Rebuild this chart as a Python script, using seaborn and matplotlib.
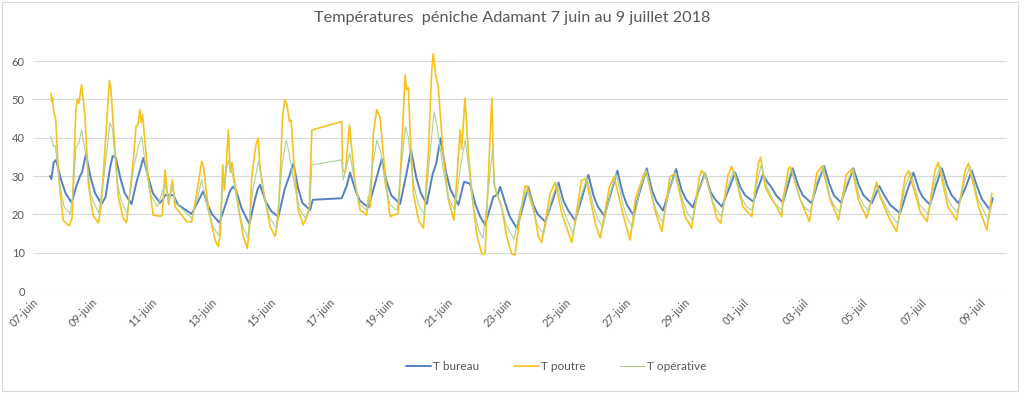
import pandas as pd
import seaborn as sns
import matplotlib.pyplot as plt
from matplotlib.lines import Line2D
from matplotlib.patches import Rectangle

debut = pd.Timestamp("2018-06-07")

# (jours depuis le 07-juin 00h, temperature en degres)
t_bureau = [
    (0.57, 30.0), (0.62, 29.2), (0.70, 33.5), (0.78, 34.2), (0.95, 29.0), (1.10, 25.5),
    (1.31, 23.0), (1.45, 27.0), (1.59, 30.0), (1.66, 31.0), (1.79, 35.8), (1.95, 29.5),
    (2.10, 25.5), (2.32, 22.7), (2.45, 24.5), (2.60, 32.0), (2.69, 35.2), (2.80, 34.8),
    (2.95, 29.5), (3.10, 25.5), (3.33, 22.7), (3.50, 28.5), (3.73, 34.7), (3.90, 29.5),
    (4.05, 25.5), (4.29, 23.0), (4.40, 24.0), (4.46, 25.0), (4.74, 25.0), (4.90, 22.5),
    (5.36, 20.1), (5.55, 23.0), (5.75, 26.0), (5.90, 22.5), (6.05, 20.0), (6.30, 17.8),
    (6.50, 22.5), (6.65, 26.0), (6.75, 27.2), (6.85, 26.5), (7.05, 21.5), (7.31, 17.5),
    (7.50, 24.0), (7.60, 26.8), (7.67, 27.7), (7.85, 23.5), (8.05, 20.8), (8.29, 19.4),
    (8.50, 26.5), (8.65, 29.8), (8.80, 33.3), (8.95, 27.0), (9.10, 23.0), (9.36, 21.1),
    (9.45, 23.8), (10.43, 24.2), (10.60, 27.5), (10.71, 30.9), (10.90, 26.0), (11.05, 23.5),
    (11.33, 21.8), (11.55, 28.0), (11.78, 34.4), (11.95, 28.5), (12.10, 25.0), (12.40, 22.7),
    (12.60, 30.0), (12.77, 36.8), (12.95, 29.5), (13.10, 25.5), (13.30, 22.7), (13.50, 30.5),
    (13.62, 33.3), (13.77, 39.9), (13.95, 31.0), (14.10, 26.5), (14.37, 22.5), (14.56, 28.5),
    (14.76, 28.0), (14.95, 22.5), (15.10, 19.5), (15.27, 17.2), (15.45, 22.0), (15.55, 24.6),
    (15.70, 25.2), (15.78, 27.2), (15.95, 23.0), (16.10, 19.5), (16.34, 16.4), (16.55, 22.0),
    (16.73, 27.1), (16.90, 22.5), (17.05, 20.0), (17.30, 18.1), (17.55, 23.5), (17.75, 28.3),
    (17.92, 23.5), (18.08, 21.0), (18.31, 18.4), (18.55, 24.5), (18.76, 30.3), (18.93, 25.0),
    (19.08, 22.0), (19.30, 19.6), (19.52, 25.5), (19.74, 31.4), (19.92, 25.5), (20.06, 22.5),
    (20.28, 19.8), (20.50, 26.0), (20.73, 32.0), (20.90, 26.5), (21.05, 23.5), (21.28, 21.0),
    (21.50, 26.5), (21.72, 31.8), (21.90, 26.5), (22.05, 24.0), (22.29, 21.8), (22.50, 26.5),
    (22.70, 30.7), (22.88, 26.0), (23.03, 24.0), (23.27, 22.0), (23.50, 26.5), (23.72, 30.9),
    (23.90, 27.0), (24.05, 25.0), (24.33, 23.3), (24.50, 27.0), (24.65, 30.3), (24.80, 28.5),
    (24.95, 27.0), (25.10, 25.0), (25.33, 23.1), (25.50, 27.5), (25.66, 32.0), (25.85, 27.5),
    (26.00, 25.0), (26.30, 22.9), (26.50, 28.0), (26.72, 32.6), (26.90, 28.0), (27.05, 25.0),
    (27.29, 23.1), (27.50, 27.5), (27.71, 32.0), (27.90, 27.5), (28.05, 25.0), (28.33, 22.9),
    (28.45, 25.0), (28.59, 27.4), (28.75, 25.0), (28.95, 22.5), (29.29, 20.3), (29.50, 25.5),
    (29.74, 30.9), (29.92, 26.5), (30.05, 24.5), (30.30, 22.5), (30.50, 27.5), (30.70, 32.0),
    (30.88, 27.5), (31.03, 25.0), (31.26, 22.9), (31.50, 27.0), (31.71, 31.4), (31.90, 27.0),
    (32.05, 24.0), (32.31, 21.3), (32.42, 24.2),
]

t_poutre = [
    (0.60, 51.6), (0.63, 49.5), (0.66, 50.5), (0.70, 46.8), (0.77, 44.6), (0.85, 32.0),
    (0.91, 26.4), (1.02, 18.5), (1.15, 17.5), (1.23, 17.0), (1.32, 19.0), (1.36, 28.1),
    (1.45, 47.3), (1.50, 50.0), (1.55, 49.0), (1.64, 53.8), (1.76, 45.5), (1.87, 28.1),
    (2.03, 19.8), (2.21, 17.7), (2.30, 22.0), (2.43, 36.8), (2.58, 54.9), (2.63, 53.0),
    (2.77, 36.8), (2.88, 24.6), (3.05, 19.0), (3.16, 17.8), (3.25, 24.0), (3.39, 34.2),
    (3.48, 42.9), (3.55, 43.5), (3.61, 47.3), (3.65, 44.0), (3.70, 46.0), (3.77, 40.0),
    (3.89, 29.8), (4.06, 19.8), (4.30, 19.5), (4.37, 19.8), (4.46, 31.6), (4.58, 22.5),
    (4.71, 29.0), (4.80, 22.0), (5.19, 18.1), (5.36, 18.0), (5.53, 25.5), (5.70, 33.8),
    (5.76, 32.5), (5.93, 21.1), (6.15, 13.3), (6.26, 11.6), (6.33, 15.0), (6.41, 32.9),
    (6.47, 26.4), (6.60, 42.0), (6.66, 31.0), (6.72, 33.5), (6.94, 22.0), (7.10, 14.2),
    (7.24, 11.1), (7.31, 16.0), (7.39, 29.8), (7.53, 38.1), (7.61, 39.9), (7.66, 33.0),
    (7.78, 26.4), (8.01, 16.8), (8.18, 14.2), (8.28, 19.0), (8.34, 28.1), (8.43, 45.5),
    (8.51, 49.9), (8.58, 48.5), (8.66, 44.2), (8.72, 44.6), (8.82, 32.5), (8.96, 21.1),
    (9.13, 17.2), (9.33, 21.1), (9.42, 42.0), (10.43, 44.2), (10.46, 31.6), (10.55, 30.9),
    (10.69, 43.3), (10.88, 28.1), (11.05, 21.1), (11.27, 19.8), (11.33, 24.6), (11.40, 22.0),
    (11.50, 41.2), (11.61, 47.3), (11.72, 45.5), (11.89, 30.7), (12.06, 19.4), (12.34, 20.3),
    (12.45, 36.8), (12.57, 56.4), (12.62, 52.5), (12.68, 53.0), (12.74, 41.2), (12.85, 25.5),
    (13.02, 18.5), (13.19, 16.4), (13.36, 36.8), (13.47, 57.7), (13.52, 61.9), (13.61, 56.0),
    (13.69, 53.3), (13.86, 35.1), (14.03, 23.8), (14.22, 18.5), (14.43, 42.0), (14.48, 37.0),
    (14.59, 50.3), (14.70, 36.8), (14.82, 25.5), (15.00, 14.2), (15.16, 9.7), (15.27, 9.7),
    (15.42, 36.8), (15.50, 50.3), (15.57, 28.1), (15.66, 25.5), (15.82, 22.3), (16.00, 14.2),
    (16.17, 9.7), (16.28, 9.4), (16.45, 19.4), (16.62, 27.2), (16.68, 27.5), (16.90, 22.0),
    (17.07, 14.2), (17.18, 12.6), (17.47, 25.5), (17.64, 28.3), (17.86, 20.3), (18.20, 12.6),
    (18.50, 27.7), (18.53, 28.9), (18.68, 29.4), (18.99, 17.7), (19.16, 13.8), (19.47, 27.2),
    (19.63, 29.8), (19.95, 19.4), (20.17, 13.3), (20.35, 24.0), (20.62, 30.3), (20.71, 31.2),
    (21.01, 21.1), (21.24, 15.5), (21.52, 29.8), (21.69, 30.7), (22.03, 19.4), (22.25, 16.4),
    (22.51, 29.8), (22.58, 31.4), (22.71, 30.3), (23.10, 19.0), (23.23, 17.7), (23.48, 30.3),
    (23.60, 32.5), (23.70, 30.5), (23.98, 22.0), (24.28, 19.4), (24.50, 33.3), (24.58, 34.9),
    (24.73, 27.2), (24.90, 24.6), (25.12, 22.0), (25.29, 19.4), (25.33, 23.8), (25.52, 32.0),
    (25.59, 32.4), (25.92, 23.8), (26.23, 18.1), (26.47, 30.7), (26.65, 32.6), (26.93, 23.8),
    (27.21, 18.5), (27.47, 30.3), (27.67, 32.0), (27.88, 23.8), (28.16, 19.0), (28.45, 27.2),
    (28.50, 28.4), (28.61, 24.6), (28.95, 18.5), (29.17, 15.5), (29.46, 29.8), (29.57, 31.4),
    (29.97, 20.7), (30.20, 18.1), (30.47, 31.6), (30.58, 33.5), (30.90, 22.0), (31.20, 18.5),
    (31.48, 31.2), (31.60, 33.3), (31.94, 22.0), (32.22, 15.9), (32.39, 25.5),
]

t_operative = [
    (0.60, 40.3), (0.65, 39.0), (0.70, 37.7), (0.75, 38.0), (0.90, 28.0), (1.05, 22.0),
    (1.25, 20.1), (1.35, 25.0), (1.45, 37.5), (1.55, 38.5), (1.64, 42.0), (1.80, 35.0),
    (1.95, 25.0), (2.22, 20.3), (2.40, 30.0), (2.60, 43.8), (2.68, 42.5), (2.85, 28.0),
    (3.00, 23.0), (3.18, 20.3), (3.40, 32.0), (3.55, 37.5), (3.67, 40.3), (3.80, 33.0),
    (3.95, 25.5), (4.20, 22.0), (4.46, 28.0), (4.58, 23.5), (4.71, 27.0), (4.82, 23.0),
    (5.36, 19.0), (5.55, 24.0), (5.70, 29.0), (5.90, 21.5), (6.10, 16.5), (6.28, 14.5),
    (6.42, 27.0), (6.60, 34.0), (6.75, 30.0), (6.95, 21.0), (7.10, 16.5), (7.26, 14.0),
    (7.42, 26.0), (7.62, 34.0), (7.80, 25.0), (8.00, 19.0), (8.22, 16.5), (8.40, 32.0),
    (8.55, 39.4), (8.65, 36.0), (8.85, 27.0), (9.00, 21.5), (9.20, 19.0), (9.35, 22.0),
    (9.42, 32.9), (10.43, 34.2), (10.48, 29.0), (10.70, 36.0), (10.90, 27.0), (11.05, 22.5),
    (11.30, 21.0), (11.45, 32.0), (11.62, 39.4), (11.75, 36.0), (11.90, 27.5), (12.06, 22.5),
    (12.30, 21.0), (12.45, 33.0), (12.58, 42.9), (12.68, 40.0), (12.85, 28.0), (13.02, 22.5),
    (13.22, 20.0), (13.40, 35.0), (13.55, 46.8), (13.65, 43.0), (13.85, 32.0), (14.05, 24.0),
    (14.25, 21.0), (14.45, 33.0), (14.60, 39.4), (14.72, 32.0), (14.90, 21.0), (15.05, 16.0),
    (15.20, 13.8), (15.40, 28.0), (15.52, 36.8), (15.60, 27.0), (15.80, 22.5), (16.00, 17.0),
    (16.25, 13.5), (16.45, 21.0), (16.68, 26.5), (16.90, 21.0), (17.05, 17.0), (17.25, 15.0),
    (17.50, 23.5), (17.70, 28.0), (17.92, 21.0), (18.10, 17.5), (18.25, 15.0), (18.50, 24.5),
    (18.72, 29.5), (18.95, 21.5), (19.10, 18.5), (19.25, 16.5), (19.50, 25.5), (19.70, 30.5),
    (19.95, 22.0), (20.10, 18.5), (20.25, 16.5), (20.50, 26.5), (20.72, 31.5), (20.95, 23.5),
    (21.10, 20.0), (21.27, 18.0), (21.50, 26.5), (21.70, 31.0), (21.95, 23.5), (22.10, 20.5),
    (22.27, 18.5), (22.50, 26.5), (22.71, 30.5), (22.95, 23.5), (23.10, 21.0), (23.25, 19.5),
    (23.48, 27.5), (23.67, 31.5), (23.95, 24.0), (24.10, 22.0), (24.30, 21.0), (24.48, 29.0),
    (24.60, 33.0), (24.80, 27.0), (25.05, 23.0), (25.30, 21.0), (25.48, 28.5), (25.62, 32.0),
    (25.90, 24.0), (26.05, 22.0), (26.26, 20.5), (26.48, 28.5), (26.70, 32.5), (26.92, 24.5),
    (27.05, 22.5), (27.25, 20.5), (27.48, 28.0), (27.70, 32.0), (27.92, 24.5), (28.05, 22.5),
    (28.20, 21.0), (28.50, 27.5), (28.62, 25.0), (28.95, 20.0), (29.22, 17.5), (29.45, 27.0),
    (29.65, 31.0), (29.95, 22.5), (30.25, 20.0), (30.48, 29.0), (30.65, 32.5), (30.90, 24.0),
    (31.05, 22.0), (31.22, 20.5), (31.48, 29.0), (31.65, 32.5), (31.92, 24.0), (32.27, 18.5),
    (32.40, 23.0),
]

noms = ["T bureau", "T poutre", "T opérative"]
couleurs = ["#5680c4", "#f7c21b", "#aed193"]
epaisseurs = [1.4, 1.2, 0.8]

tick_labels = ["07-juin", "09-juin", "11-juin", "13-juin", "15-juin", "17-juin",
               "19-juin", "21-juin", "23-juin", "25-juin", "27-juin", "29-juin",
               "01-juil", "03-juil", "05-juil", "07-juil", "09-juil"]

frames = []
for nom, pts in zip(noms, [t_bureau, t_poutre, t_operative]):
    df = pd.DataFrame(pts, columns=["jour", "temp"])
    df["date"] = debut + pd.to_timedelta(df["jour"], unit="D")
    df["serie"] = nom
    frames.append(df)
data = pd.concat(frames, ignore_index=True)

sns.set_style("white")
plt.rcParams["font.family"] = ["Lato", "DejaVu Sans"]
gris = "#595959"

fig = plt.figure(figsize=(10.24, 3.93), dpi=100)
ax = fig.add_axes([0.0322, 0.2595, 0.9512, 0.6194])

for nom, c, lw in zip(noms, couleurs, epaisseurs):
    sns.lineplot(data=data[data["serie"] == nom], x="date", y="temp",
                 color=c, linewidth=lw, estimator=None, sort=False, ax=ax)

ax.set_ylim(0, 63.5)
ax.set_yticks(range(0, 61, 10))
ax.set_xlim(debut, debut + pd.Timedelta(days=32.9))
ax.set_xticks([debut + pd.Timedelta(days=2 * k) for k in range(len(tick_labels))])
ax.set_xticklabels(tick_labels, rotation=45, ha="right", rotation_mode="anchor")
ax.tick_params(axis="both", length=0, labelsize=8, labelcolor=gris)
ax.tick_params(axis="y", pad=6)
ax.tick_params(axis="x", pad=4)
ax.grid(axis="y", color="#d9d9d9", linewidth=0.8)
ax.set_axisbelow(True)
ax.set_xlabel("")
ax.set_ylabel("")
for s in ax.spines.values():
    s.set_visible(False)

fig.text(0.5, 1 - 18 / 393, "Températures  péniche Adamant 7 juin au 9 juillet 2018",
         ha="center", va="center", fontsize=11.7, color=gris)

handles = [Line2D([], [], color=c, linewidth=lw) for c, lw in zip(couleurs, epaisseurs)]
leg = fig.legend(handles, noms, loc="center left", bbox_to_anchor=(398 / 1024, 1 - 367 / 393),
                 ncol=3, frameon=False, fontsize=8.5, handlelength=2.1,
                 handletextpad=0.2, columnspacing=2.9, borderpad=0.2)
for t in leg.get_texts():
    t.set_color(gris)

fig.add_artist(Rectangle((0.002, 0.004), 0.992, 0.992, transform=fig.transFigure,
                         fill=False, edgecolor="#d9d9d9", linewidth=0.8))

fig.savefig("out.png", dpi=100)
